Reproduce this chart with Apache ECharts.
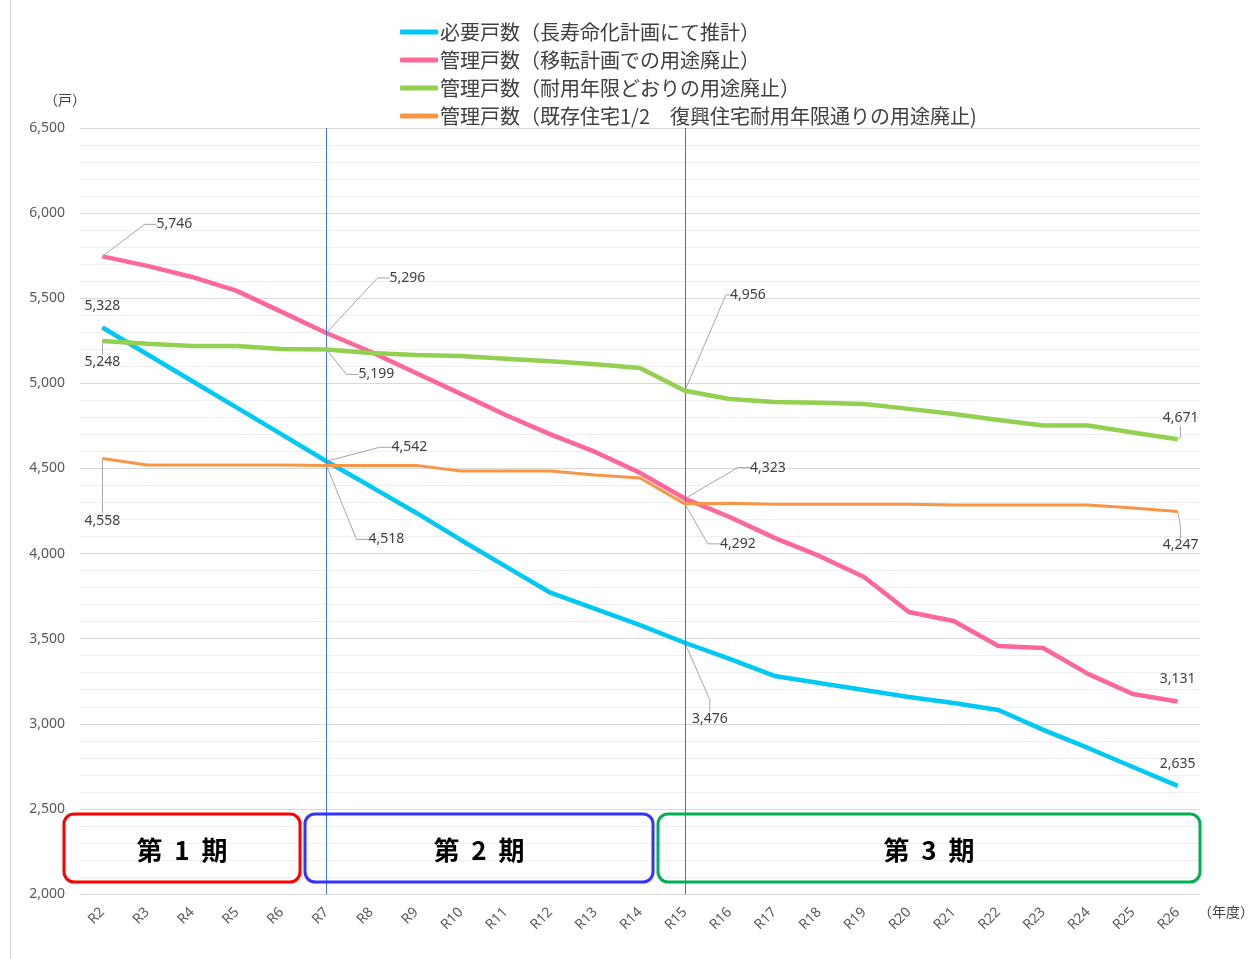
<!DOCTYPE html>
<html>
<head>
<meta charset="utf-8">
<script src="https://cdn.jsdelivr.net/npm/echarts@6/dist/echarts.min.js"></script>
<style>
  html, body { margin: 0; padding: 0; background: #fff; }
  #main { width: 1251px; height: 959px; }
</style>
</head>
<body>
<div id="main"></div>
<script>
// 年度
const categories = ['R2', 'R3', 'R4', 'R5', 'R6', 'R7', 'R8', 'R9', 'R10', 'R11', 'R12', 'R13', 'R14',
  'R15', 'R16', 'R17', 'R18', 'R19', 'R20', 'R21', 'R22', 'R23', 'R24', 'R25', 'R26'];

// 必要戸数（長寿命化計画にて推計）
const needed = [5328, 5171, 5014, 4857, 4700, 4542, 4392, 4240, 4080, 3925, 3770, 3675, 3580,
  3476, 3381, 3281, 3240, 3199, 3157, 3122, 3081, 2964, 2858, 2746, 2635];
// 管理戸数（移転計画での用途廃止）
const relocation = [5746, 5690, 5625, 5543, 5420, 5296, 5184, 5061, 4938, 4814, 4700, 4597, 4474,
  4323, 4215, 4092, 3986, 3862, 3657, 3604, 3457, 3445, 3293, 3175, 3131];
// 管理戸数（耐用年限どおりの用途廃止）
const lifespan = [5248, 5232, 5220, 5220, 5202, 5199, 5178, 5167, 5160, 5145, 5130, 5112, 5090,
  4956, 4908, 4891, 4886, 4879, 4850, 4820, 4785, 4752, 4752, 4711, 4671];
// 管理戸数（既存住宅1/2 復興住宅耐用年限通りの用途廃止）
const halfRebuild = [4558, 4520, 4520, 4520, 4520, 4518, 4518, 4518, 4485, 4485, 4485, 4462, 4444,
  4292, 4295, 4290, 4290, 4290, 4290, 4285, 4285, 4285, 4285, 4268, 4247];

const yTicks = [2000, 6500, 500];  // min, max, interval
const labelled = [0, 5, 13, 24];   // R2, R7, R15, R26

const names = [
  '必要戸数（長寿命化計画にて推計）',
  '管理戸数（移転計画での用途廃止）',
  '管理戸数（耐用年限どおりの用途廃止）',
  '管理戸数（既存住宅1/2　復興住宅耐用年限通りの用途廃止)'
];
const colors = ['#00C8F5', '#FF6699', '#92D050', '#F79646'];
const widths = [4.5, 4.5, 4.5, 3];

// ラベル位置 [dx, dy, 引き出し線, length2]
const labelOffsets = [
  { 0: [0, -21, false], 5: [83, -14, true], 13: [25, 76, true], 24: [0, -22, false] },
  { 0: [72, -32, true], 5: [81, -55, true], 13: [83, -31, true], 24: [0, -22, false] },
  { 0: [0, 21, true], 5: [50, 25, true], 13: [63, -96, true, 4], 24: [3, -21, true] },
  { 0: [0, 62, true], 5: [60, 74, true], 13: [53, 40, true], 24: [3, 34, true] }
];

const FONT = '"Noto Sans CJK JP", "Noto Sans", sans-serif';
const NUMFONT = '"Noto Sans", "Liberation Sans", sans-serif';

function makeData(values, s) {
  return values.map(function (v, i) {
    if (labelled.indexOf(i) < 0) return v;
    const o = labelOffsets[s][i];
    const line = { show: o[2] };
    if (o[3] != null) line.length2 = o[3];
    return { value: v, label: { show: true }, labelLine: line };
  });
}

const allValues = [needed, relocation, lifespan, halfRebuild];

const series = allValues.map(function (vals, s) {
  const item = {
    name: names[s],
    type: 'line',
    data: makeData(vals, s),
    symbol: 'circle',
    symbolSize: 1,
    showAllSymbol: true,
    z: 3 + s,
    lineStyle: { color: colors[s], width: widths[s] },
    itemStyle: { color: colors[s] },
    emphasis: { disabled: true },
    label: {
      show: false,
      position: 'inside',
      color: '#404040',
      fontSize: 14,
      fontFamily: NUMFONT,
      formatter: function (p) { return p.value.toLocaleString('en-US'); }
    },
    labelLine: {
      show: true,
      length2: 12,
      lineStyle: { color: '#a6a6a6', width: 1 }
    },
    labelLayout: function (params) {
      const o = labelOffsets[params.seriesIndex][params.dataIndex];
      if (!o) return {};
      return { dx: o[0], dy: o[1] };
    }
  };
  if (s === 0) {
    item.markLine = {
      silent: true,
      symbol: 'none',
      label: { show: false },
      lineStyle: { color: '#4472C4', width: 1, type: 'solid' },
      data: [{ xAxis: 'R7' }, { xAxis: 'R15' }]
    };
  }
  return item;
});

const chart = echarts.init(document.getElementById('main'), null, { renderer: 'canvas' });

const boxes = [
  { x: 64, w: 236, color: '#FF0000', text: '第  1  期' },
  { x: 305, w: 348, color: '#3333FF', text: '第  2  期' },
  { x: 658, w: 542, color: '#00B050', text: '第  3  期' }
];

const graphic = [
  { type: 'line', shape: { x1: 10.5, y1: 0, x2: 10.5, y2: 959 }, style: { stroke: '#d9d9d9', lineWidth: 1 } },
  { type: 'text', left: 44, top: 93, style: { text: '（戸）', font: '14px ' + FONT, fill: '#404040' } },
  { type: 'text', left: 1198, top: 905, style: { text: '（年度）', font: '14px ' + FONT, fill: '#404040' } }
];
boxes.forEach(function (b) {
  graphic.push({
    type: 'rect', z: 10,
    shape: { x: b.x, y: 814, width: b.w, height: 68, r: 10 },
    style: { fill: 'transparent', stroke: b.color, lineWidth: 3 }
  });
  graphic.push({
    type: 'text', z: 11,
    x: b.x + b.w / 2, y: 850,
    style: { text: b.text, font: 'bold 26px ' + FONT, fill: '#000', align: 'center', verticalAlign: 'middle' }
  });
});

const option = {
  animation: false,
  color: colors,
  legend: {
    orient: 'vertical',
    left: 395,
    top: 15,
    icon: 'roundRect',
    itemWidth: 38,
    itemHeight: 5,
    itemGap: 4,
    data: names,
    textStyle: { fontSize: 20, fontFamily: FONT, color: '#404040', lineHeight: 24, padding: [0, 0, 0, -3] }
  },
  grid: { left: 80, right: 51, top: 128, bottom: 65, containLabel: false },
  xAxis: {
    type: 'category',
    data: categories,
    boundaryGap: true,
    axisLine: { show: true, lineStyle: { color: '#d9d9d9', width: 1 } },
    axisTick: { show: false },
    axisLabel: { rotate: 45, margin: 16, color: '#595959', fontSize: 14, fontFamily: NUMFONT }
  },
  yAxis: {
    type: 'value',
    min: yTicks[0],
    max: yTicks[1],
    interval: yTicks[2],
    axisLine: { show: false },
    axisTick: { show: false },
    axisLabel: {
      margin: 15, color: '#595959', fontSize: 14, fontFamily: NUMFONT,
      formatter: function (v) { return v.toLocaleString('en-US'); }
    },
    splitLine: { lineStyle: { color: '#d9d9d9', width: 1 } },
    minorTick: { show: false, splitNumber: 5 },
    minorSplitLine: { show: true, lineStyle: { color: '#f0f0f0', width: 1 } }
  },
  graphic: graphic,
  series: series
};

chart.setOption(option);
</script>
</body>
</html>
